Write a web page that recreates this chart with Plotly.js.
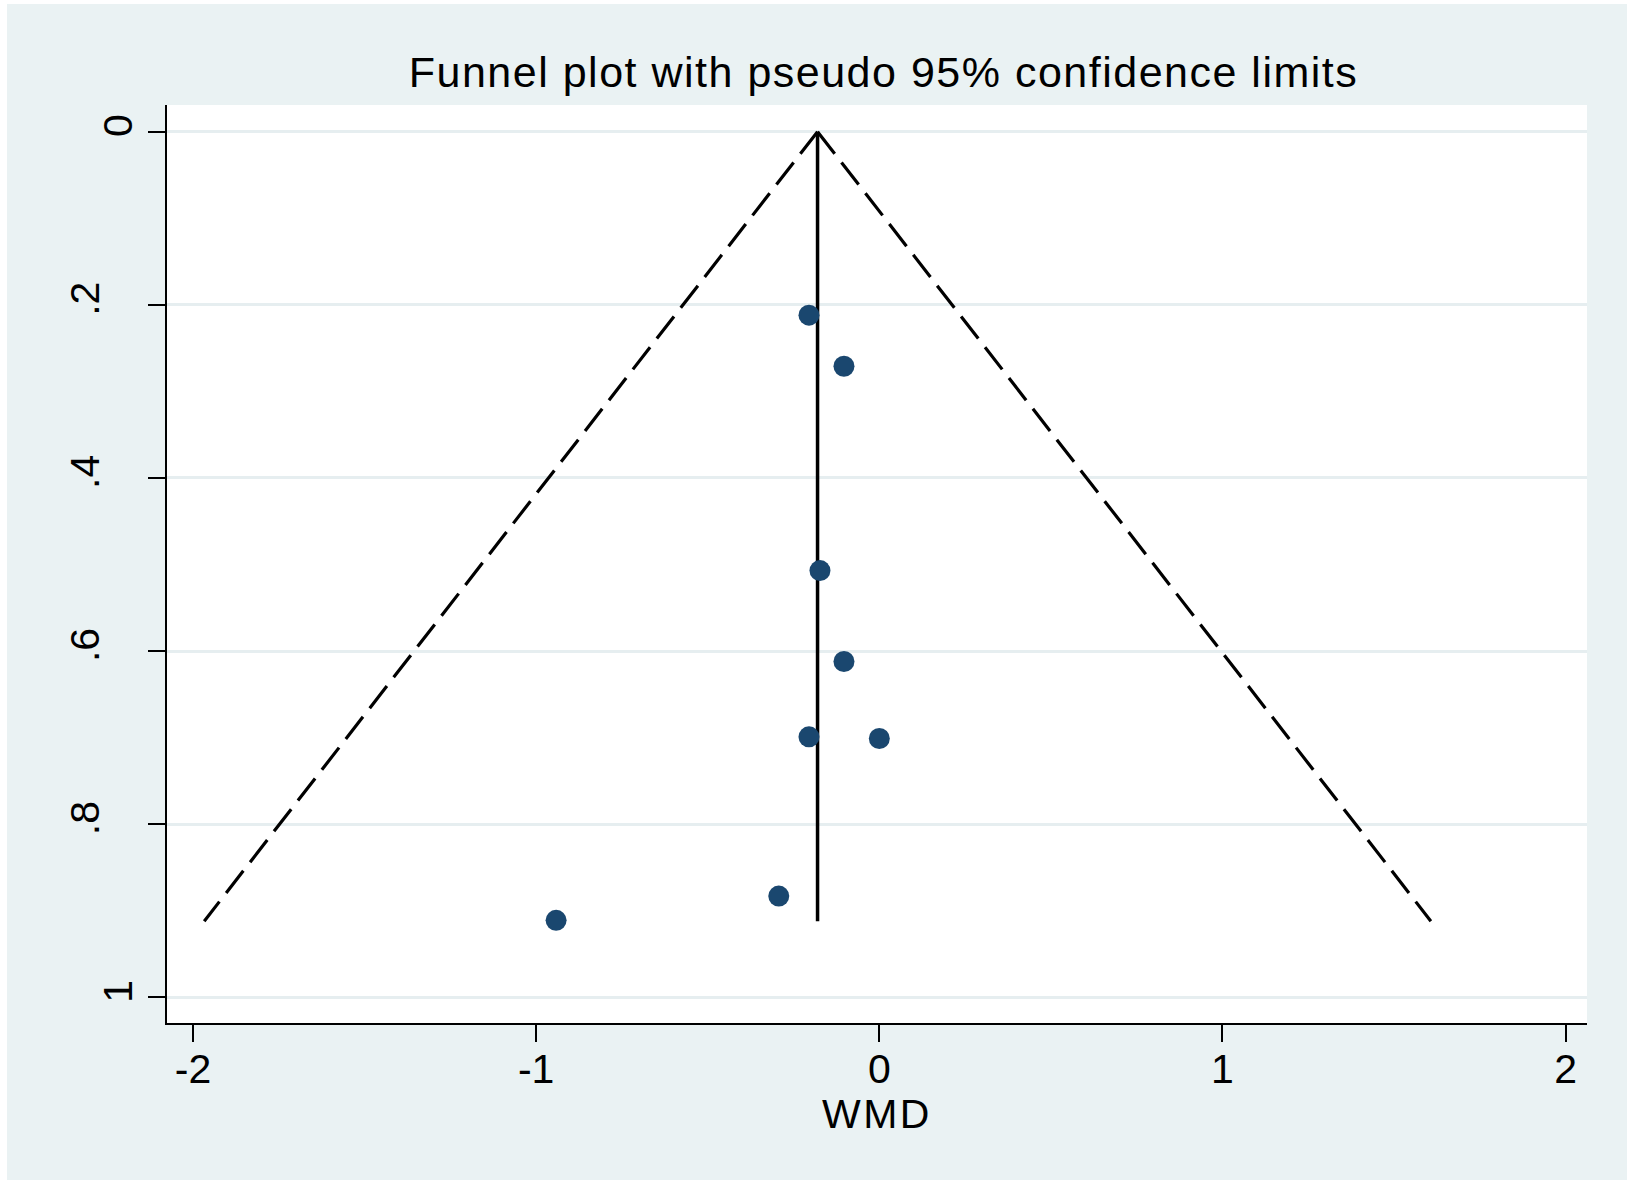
<!DOCTYPE html>
<html>
<head>
<meta charset="utf-8">
<script src="https://cdn.plot.ly/plotly-3.0.1.min.js"></script>
<style>
  html, body { margin: 0; padding: 0; background: #ffffff; width: 1627px; height: 1180px; overflow: hidden; }
  #chart { position: absolute; left: 7px; top: 4px; width: 1620px; height: 1176px; }
  #chart .gtitle { letter-spacing: 1.5px; }
  #chart .g-xtitle text { letter-spacing: 2.5px; transform: translateY(-1px); }
</style>
</head>
<body>
<div id="chart"></div>
<script>
// Study effect sizes (WMD) and their standard errors
const wmd = [-0.205, -0.103, -0.173, -0.103, -0.205, 0.0, -0.293, -0.942];
const se  = [0.212, 0.271, 0.507, 0.612, 0.699, 0.701, 0.883, 0.911];
// Pooled estimate and the largest standard error shown by the funnel
const pooled = -0.18;
const maxSe = 0.912;
const zCrit = 1.96;
// Tick labels
const xTickVals = [-2, -1, 0, 1, 2];
const xTickText = ["-2", "-1", "0", "1", "2"];
const yTickVals = [0, 0.2, 0.4, 0.6, 0.8, 1];
const yTickText = ["0", "", "", "", "", "1"];
const yInnerVals = [0.2, 0.4, 0.6, 0.8];
const yInnerText = [".2", ".4", ".6", ".8"];

const FONT = '"Liberation Sans", Arial, Helvetica, sans-serif';
const lowerX = pooled - zCrit * maxSe;
const upperX = pooled + zCrit * maxSe;
const yRange = [1.0296, -0.0308];

const traces = [
  { x: [pooled, lowerX], y: [0, maxSe], mode: 'lines', type: 'scatter',
    line: { color: '#000000', width: 3.2, dash: '28px,11px' }, hoverinfo: 'skip', showlegend: false },
  { x: [pooled, upperX], y: [0, maxSe], mode: 'lines', type: 'scatter',
    line: { color: '#000000', width: 3.2, dash: '28px,11px' }, hoverinfo: 'skip', showlegend: false },
  { x: [pooled, pooled], y: [0, maxSe], mode: 'lines', type: 'scatter',
    line: { color: '#000000', width: 3.5 }, hoverinfo: 'skip', showlegend: false },
  { x: wmd, y: se, mode: 'markers', type: 'scatter', yaxis: 'y2',
    marker: { color: '#1A476F', size: 21, line: { width: 0 } }, showlegend: false }
];

const layout = {
  width: 1620, height: 1176,
  paper_bgcolor: '#EAF2F3',
  plot_bgcolor: '#FFFFFF',
  margin: { l: 160.3, r: 39.7, t: 101, b: 156.7, pad: 0 },
  font: { family: FONT, color: '#000000', size: 41 },
  showlegend: false,
  title: {
    text: 'Funnel plot with pseudo 95% confidence limits',
    font: { family: FONT, size: 43, color: '#000000' },
    xref: 'paper', x: 0.5046, xanchor: 'center',
    yref: 'container', y: 0.9418, yanchor: 'middle'
  },
  xaxis: {
    range: [-2.076, 2.0625],
    tickvals: xTickVals, ticktext: xTickText,
    ticks: 'outside', ticklen: 17, tickwidth: 2, tickcolor: '#000000',
    ticklabelstandoff: -8,
    showline: true, linecolor: '#000000', linewidth: 2, mirror: false,
    showgrid: false, zeroline: false,
    tickfont: { family: FONT, size: 41, color: '#000000' },
    title: { text: 'WMD', font: { family: FONT, size: 41, color: '#000000' }, standoff: 0 }
  },
  yaxis: {
    range: yRange,
    tickvals: yTickVals, ticktext: yTickText, tickangle: -90,
    ticks: 'outside', ticklen: 17, tickwidth: 2, tickcolor: '#000000',
    showline: true, linecolor: '#000000', linewidth: 2, mirror: false,
    showgrid: true, gridcolor: '#E6EEF0', gridwidth: 3, zeroline: false,
    tickfont: { family: FONT, size: 41, color: '#000000' }
  },
  yaxis2: {
    range: yRange, overlaying: 'y', side: 'left', anchor: 'x',
    tickvals: yInnerVals, ticktext: yInnerText, tickangle: -90,
    ticks: 'outside', ticklen: 17, tickwidth: 2, tickcolor: 'rgba(0,0,0,0)',
    ticklabelstandoff: 34,
    showline: false, showgrid: false, zeroline: false,
    tickfont: { family: FONT, size: 41, color: '#000000' }
  }
};

Plotly.newPlot('chart', traces, layout, { displayModeBar: false, staticPlot: true });
</script>
</body>
</html>
